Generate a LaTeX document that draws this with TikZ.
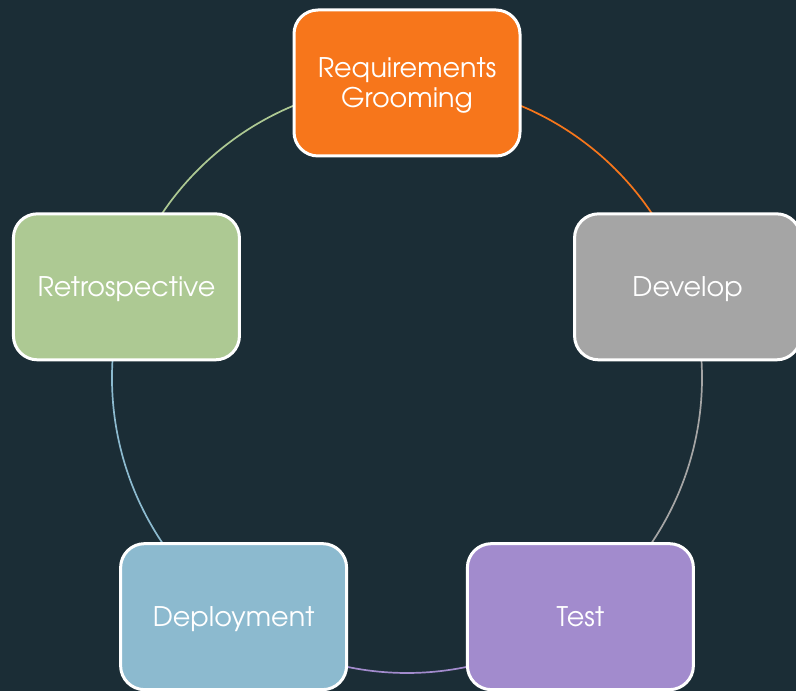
\documentclass[tikz,border=0pt]{standalone}
\usepackage{fontspec}
\setmainfont{texgyreadventor-regular.otf}
\usetikzlibrary{calc}
\definecolor{bgc}{RGB}{27,45,54}
\definecolor{reqc}{RGB}{247,118,27}
\definecolor{devc}{RGB}{165,165,165}
\definecolor{testc}{RGB}{162,139,205}
\definecolor{depc}{RGB}{140,186,207}
\definecolor{retc}{RGB}{173,201,147}
\pgfdeclarelayer{bg}
\pgfsetlayers{bg,main}
\begin{document}
\begin{tikzpicture}[x=1pt,y=1pt,
  stage/.style={draw=white, line width=3pt, rounded corners=24pt,
    minimum width=226pt, minimum height=146pt, text=white, align=center,
    font=\fontsize{27}{30}\selectfont, inner sep=0pt, text depth=0pt},
  link/.style={line width=1.7pt}]
\useasboundingbox (0,0) rectangle (796,691);
\clip (0,0) rectangle (796,691);
\coordinate (c) at (407,313);
\def\R{295}
\node[stage, fill=reqc] (req) at ($(c)+(90:\R)$) {Requirements\\Grooming};
\node[stage, fill=devc] (dev) at ($(c)+(18:\R)$) {Develop};
\node[stage, fill=testc] (test) at ($(c)+(-54:\R)$) {Test};
\node[stage, fill=depc] (dep) at ($(c)+(-126:\R)$) {Deployment};
\node[stage, fill=retc] (ret) at ($(c)+(162:\R)$) {Retrospective};
\begin{pgfonlayer}{bg}
\fill[bgc] (0,0) rectangle (796,691);
\draw[link, reqc] (req.center) arc[start angle=90, end angle=18, radius=\R];
\draw[link, devc] (dev.center) arc[start angle=18, end angle=-54, radius=\R];
\draw[link, testc] (test.center) arc[start angle=-54, end angle=-126, radius=\R];
\draw[link, depc] (dep.center) arc[start angle=-126, end angle=-198, radius=\R];
\draw[link, retc] (ret.center) arc[start angle=162, end angle=90, radius=\R];
\end{pgfonlayer}
\end{tikzpicture}
\end{document}
